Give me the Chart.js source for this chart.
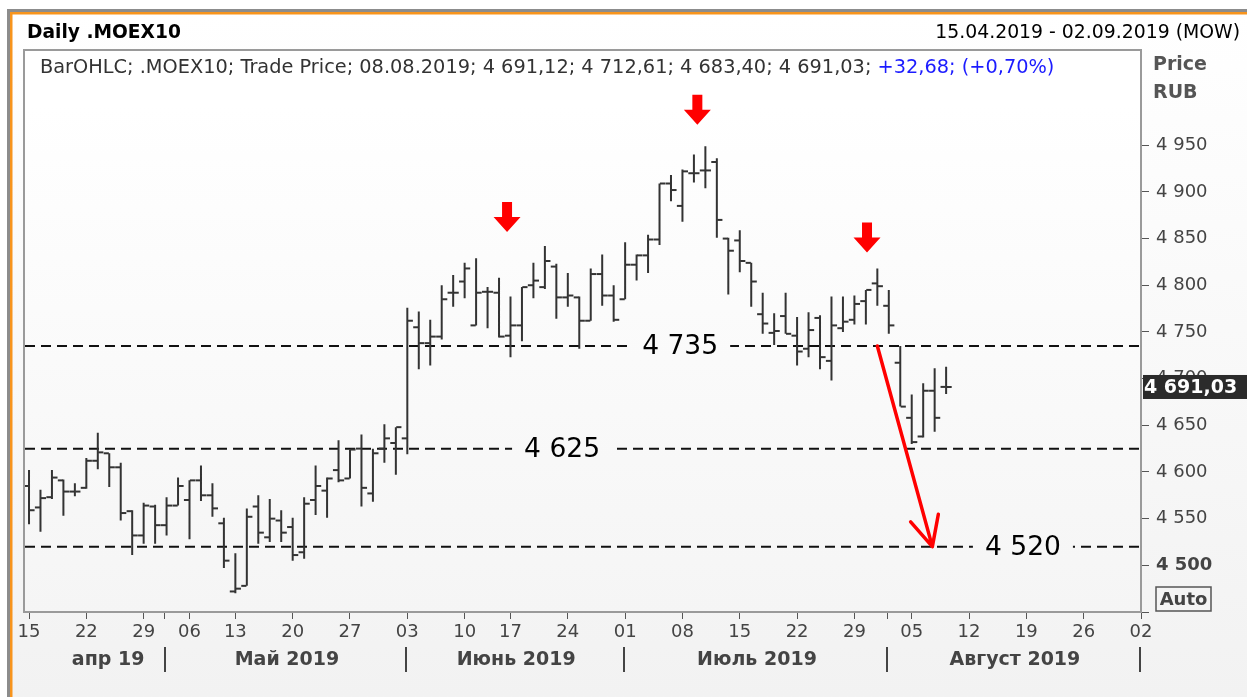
<!DOCTYPE html>
<html>
<head>
<meta charset="utf-8">
<script src="https://cdn.jsdelivr.net/npm/chart.js@4.4.1/dist/chart.umd.min.js"></script>
<style>
html, body { margin: 0; padding: 0; background: #fff; }
canvas { display: block; }
</style>
</head>
<body>
<canvas id="chartCanvas" width="1247" height="697"></canvas>
<script>
// daily bars .MOEX10, 15.04.2019 - 08.08.2019 (index = trading day)
const barOpen = [4585, 4562, 4573, 4591, 4579, 4583, 4612, 4620, 4605, 4558,
    4532, 4563, 4543, 4564, 4570, 4591, 4575, 4545, 4472, 4478,
    4563, 4530, 4548, 4541, 4514, 4570, 4580, 4602, 4593, 4625,
    4577, 4625, 4631, 4636, 4755, 4738, 4745, 4792, 4804, 4757,
    4793, 4792, 4746, 4757, 4800, 4798, 4820, 4787, 4787, 4762,
    4812, 4789, 4785, 4822, 4832, 4849, 4909, 4885, 4920, 4923,
    4932, 4850, 4848, 4824, 4769, 4749, 4767, 4746, 4732, 4765,
    4719, 4754, 4763, 4783, 4802, 4778, 4717, 4658, 4638, 4687, 4691.12];
const barHigh = [4602, 4581, 4602, 4592, 4588, 4615, 4642, 4620, 4610, 4559,
    4567, 4565, 4573, 4594, 4591, 4607, 4588, 4551, 4513, 4561,
    4575, 4571, 4559, 4551, 4573, 4607, 4594, 4634, 4624, 4640,
    4625, 4651, 4648, 4776, 4772, 4763, 4800, 4811, 4824, 4829,
    4798, 4808, 4788, 4798, 4824, 4842, 4823, 4813, 4788, 4818,
    4833, 4800, 4846, 4833, 4854, 4909, 4918, 4924, 4940, 4949,
    4936, 4851, 4859, 4824, 4792, 4770, 4792, 4766, 4771, 4768,
    4788, 4788, 4789, 4795, 4818, 4795, 4735, 4683, 4695, 4711, 4712.61];
const barLow = [4544, 4536, 4571, 4553, 4574, 4582, 4603, 4584, 4548, 4511,
    4523, 4523, 4532, 4564, 4528, 4569, 4552, 4497, 4470, 4478,
    4523, 4525, 4525, 4505, 4507, 4554, 4551, 4589, 4593, 4563,
    4568, 4610, 4597, 4619, 4710, 4714, 4742, 4777, 4786, 4757,
    4754, 4744, 4723, 4740, 4786, 4796, 4764, 4777, 4732, 4762,
    4778, 4761, 4785, 4805, 4813, 4843, 4890, 4868, 4910, 4904,
    4851, 4790, 4814, 4777, 4748, 4736, 4748, 4714, 4723, 4710,
    4698, 4750, 4758, 4758, 4778, 4748, 4670, 4630, 4637, 4643, 4683.40];
const barClose = [4559, 4572, 4594, 4579, 4579, 4612, 4621, 4605, 4556, 4532,
    4564, 4543, 4564, 4585, 4591, 4575, 4561, 4505, 4475, 4552,
    4535, 4550, 4535, 4511, 4566, 4585, 4593, 4591, 4624, 4583,
    4620, 4636, 4648, 4762, 4738, 4745, 4785, 4792, 4818, 4792,
    4793, 4745, 4757, 4798, 4805, 4826, 4787, 4789, 4762, 4812,
    4789, 4763, 4822, 4832, 4849, 4909, 4902, 4922, 4920, 4923,
    4870, 4837, 4826, 4804, 4759, 4751, 4748, 4729, 4752, 4723,
    4757, 4761, 4780, 4795, 4799, 4757, 4670, 4632, 4687, 4658, 4691.03];

const xTickIdx = [0, 5, 10, 14, 18, 23, 28, 33, 38, 42, 47, 52, 57, 62, 67, 72, 77, 82, 87, 92, 97];
const xTickText = ["15", "22", "29", "06", "13", "20", "27", "03", "10", "17", "24",
    "01", "08", "15", "22", "29", "05", "12", "19", "26", "02"];
const monthTickIdx = [11.85, 74.85];
const monthNames = ["апр 19", "Май 2019", "Июнь 2019", "Июль 2019", "Август 2019"];
const monthLabelIdx = [6.9, 22.5, 42.5, 63.5, 86];
const monthStartIdx = [12, 33, 52, 75, 97];
const yTicks = [4450, 4500, 4550, 4600, 4650, 4700, 4750, 4800, 4850, 4900, 4950];

const levels = [4735, 4625, 4520];
const levelLabelIdx = [56.8, 46.5, 86.7];
const arrowIdx = [41.7, 58.3, 73.1];
const arrowTip = [4857, 4972, 4835];
const trendFrom = [74.0, 4735];
const trendTo = [78.8, 4520];
const lastPrice = 4691.03;

const FONT = '"DejaVu Sans", Verdana, sans-serif';
const X_MIN = -0.35, X_MAX = 97;

function fmt(v) {
    return String(v).replace(/\B(?=(\d{3})+(?!\d))/g, " ");
}

// high-low strokes: pairs of points split by null
const hlPoints = [];
barHigh.forEach((h, i) => {
    hlPoints.push({x: i, y: barLow[i]}, {x: i, y: h}, {x: i, y: null});
});
const openPoints = barOpen.map((v, i) => ({x: i - 0.26, y: v}));
const closePoints = barClose.map((v, i) => ({x: i + 0.26, y: v}));

const levelSets = levels.map(v => ({
    type: "scatter",
    data: [{x: X_MIN, y: v}, {x: X_MAX, y: v}],
    showLine: true,
    borderColor: "#111",
    borderWidth: 2,
    borderDash: [10, 6],
    pointRadius: 0
}));

function fitSize(ctx, text, weight, target) {
    ctx.font = weight + " 20px " + FONT;
    return 20 * target / ctx.measureText(text).width;
}

const backdrop = {
    id: "backdrop",
    beforeDraw(chart) {
        const {ctx, chartArea: a, width, height} = chart;
        ctx.save();
        ctx.fillStyle = "#fff";
        ctx.fillRect(0, 0, width, height);
        let g = ctx.createLinearGradient(0, 14, 0, height);
        g.addColorStop(0, "#ffffff");
        g.addColorStop(1, "#f2f2f2");
        ctx.fillStyle = g;
        ctx.fillRect(10, 12, width - 10, height - 12);
        // frame lines
        ctx.fillStyle = "#8c8c8c";
        ctx.fillRect(7, 9, width - 7, 3);
        ctx.fillRect(7, 9, 3, height - 9);
        ctx.fillStyle = "#f7941d";
        ctx.fillRect(10, 12, width - 10, 2.5);
        ctx.fillRect(10, 12, 2.5, height - 12);
        // plot area
        const pg = ctx.createLinearGradient(0, a.top, 0, a.bottom);
        pg.addColorStop(0, "#ffffff");
        pg.addColorStop(0.1, "#ffffff");
        pg.addColorStop(1, "#f5f5f5");
        chart.$plotGrad = pg;
        ctx.fillStyle = pg;
        ctx.fillRect(a.left, a.top, a.right - a.left, a.bottom - a.top);
        ctx.restore();
    }
};

function downArrow(ctx, x, y) {
    ctx.beginPath();
    ctx.moveTo(x, y);
    ctx.lineTo(x - 13.5, y - 15);
    ctx.lineTo(x - 5, y - 15);
    ctx.lineTo(x - 5, y - 30);
    ctx.lineTo(x + 5, y - 30);
    ctx.lineTo(x + 5, y - 15);
    ctx.lineTo(x + 13.5, y - 15);
    ctx.closePath();
    ctx.fill();
}

const overlay = {
    id: "overlay",
    afterDraw(chart) {
        const {ctx, chartArea: a, scales} = chart;
        const xs = scales.x, ys = scales.y;
        ctx.save();

        // plot border
        ctx.strokeStyle = "#9a9a9a";
        ctx.lineWidth = 2;
        ctx.strokeRect(a.left - 1, a.top, a.right - a.left + 1, a.bottom - a.top);

        // level labels
        ctx.textBaseline = "middle";
        ctx.textAlign = "center";
        levels.forEach((v, i) => {
            const x = xs.getPixelForValue(levelLabelIdx[i]);
            const y = ys.getPixelForValue(v);
            const s = fitSize(ctx, fmt(v), "normal", 76);
            ctx.font = s + "px " + FONT;
            ctx.fillStyle = chart.$plotGrad;
            ctx.fillRect(x - 50, y - 12, 100, 24);
            ctx.fillStyle = "#000";
            ctx.fillText(fmt(v), x, y + 1);
        });

        // red arrows
        ctx.fillStyle = "#ff0000";
        arrowIdx.forEach((v, i) => {
            downArrow(ctx, xs.getPixelForValue(v), ys.getPixelForValue(arrowTip[i]));
        });

        // trend line with arrow head
        const x0 = xs.getPixelForValue(trendFrom[0]), y0 = ys.getPixelForValue(trendFrom[1]);
        const x1 = xs.getPixelForValue(trendTo[0]), y1 = ys.getPixelForValue(trendTo[1]);
        const ang = Math.atan2(y0 - y1, x0 - x1);
        ctx.strokeStyle = "#ff0000";
        ctx.lineWidth = 3.5;
        ctx.lineCap = "round";
        ctx.beginPath();
        ctx.moveTo(x0, y0);
        ctx.lineTo(x1, y1);
        [-0.45, 0.45].forEach(d => {
            ctx.moveTo(x1, y1);
            ctx.lineTo(x1 + 33 * Math.cos(ang + d), y1 + 33 * Math.sin(ang + d));
        });
        ctx.stroke();
        ctx.lineCap = "butt";

        // header texts
        ctx.textAlign = "left";
        let s = fitSize(ctx, "Daily .MOEX10", "bold", 154);
        ctx.font = "bold " + s + "px " + FONT;
        ctx.fillStyle = "#000";
        ctx.fillText("Daily .MOEX10", 27, 33);

        const range = "15.04.2019 - 02.09.2019 (MOW)";
        s = fitSize(ctx, range, "normal", 305);
        ctx.font = s + "px " + FONT;
        ctx.textAlign = "right";
        ctx.fillText(range, 1240, 33);

        const part1 = "BarOHLC; .MOEX10; Trade Price; 08.08.2019; 4 691,12; 4 712,61; 4 683,40; 4 691,03; ";
        const part2 = "+32,68; (+0,70%)";
        s = fitSize(ctx, part1 + part2, "normal", 1015);
        ctx.font = s + "px " + FONT;
        ctx.textAlign = "left";
        ctx.fillStyle = "#333";
        ctx.fillText(part1, 40, 68);
        ctx.fillStyle = "#1c1cff";
        ctx.fillText(part2, 40 + ctx.measureText(part1).width, 68);

        // axis title
        ctx.font = "bold 19px " + FONT;
        ctx.fillStyle = "#555";
        ctx.fillText("Price", 1153, 65);
        ctx.fillText("RUB", 1153, 93);

        // last price box
        const yp = ys.getPixelForValue(lastPrice);
        ctx.fillStyle = "#2b2b2b";
        ctx.fillRect(a.right + 2, yp - 12, 1247 - a.right - 2, 24);
        ctx.fillStyle = "#fff";
        ctx.font = "bold 19px " + FONT;
        ctx.fillText("4 691,03", a.right + 3, yp + 1);

        // Auto box
        ctx.strokeStyle = "#555";
        ctx.lineWidth = 1.5;
        ctx.strokeRect(1156, 587, 55, 24);
        ctx.fillStyle = "#444";
        ctx.font = "bold 18px " + FONT;
        ctx.textAlign = "center";
        ctx.fillText("Auto", 1183.5, 600);

        // month row
        ctx.font = "bold 19px " + FONT;
        monthNames.forEach((m, i) => {
            ctx.fillText(m, xs.getPixelForValue(monthLabelIdx[i]), 660);
        });
        ctx.strokeStyle = "#444";
        ctx.lineWidth = 2;
        monthStartIdx.forEach(v => {
            const x = Math.round(xs.getPixelForValue(v) - 1.5);
            ctx.beginPath();
            ctx.moveTo(x, 647);
            ctx.lineTo(x, 672);
            ctx.stroke();
        });
        ctx.restore();
    }
};

const ctx = document.getElementById("chartCanvas").getContext("2d");
const chart = new Chart(ctx, {
    type: "scatter",
    data: {
        datasets: [
            {
                data: hlPoints,
                showLine: true,
                spanGaps: false,
                borderColor: "#333",
                borderWidth: 2,
                pointRadius: 0
            },
            {
                data: openPoints,
                pointStyle: "line",
                pointRadius: 2.6,
                pointBorderWidth: 2,
                borderColor: "#333"
            },
            {
                data: closePoints,
                pointStyle: "line",
                pointRadius: 2.6,
                pointBorderWidth: 2,
                borderColor: "#333"
            },
            ...levelSets
        ]
    },
    options: {
        responsive: false,
        animation: false,
        devicePixelRatio: 1,
        events: [],
        layout: {padding: {left: 25, top: 50, right: 0, bottom: 0}},
        plugins: {legend: {display: false}, tooltip: {enabled: false}},
        scales: {
            x: {
                type: "linear",
                min: X_MIN,
                max: X_MAX,
                afterBuildTicks: sc => {
                    sc.ticks = xTickIdx.concat(monthTickIdx).sort((p, q) => p - q).map(v => ({value: v}));
                },
                afterFit: sc => { sc.height = 85; },
                ticks: {
                    autoSkip: false,
                    maxRotation: 0,
                    padding: 3,
                    color: "#444",
                    font: {family: FONT, size: 18},
                    callback: v => {
                        const k = xTickIdx.indexOf(v);
                        return k >= 0 ? xTickText[k] : "";
                    }
                },
                grid: {drawOnChartArea: false, tickLength: 7, color: "#555"},
                border: {display: false}
            },
            y: {
                position: "right",
                min: 4450,
                max: 5052,
                afterBuildTicks: sc => { sc.ticks = yTicks.map(v => ({value: v})); },
                afterFit: sc => { sc.width = 106; },
                ticks: {
                    padding: 7,
                    color: "#444",
                    font: c => ({family: FONT, size: 18, weight: c.tick && c.tick.value === 4500 ? "bold" : "normal"}),
                    callback: v => v === 4450 ? "" : fmt(v)
                },
                grid: {drawOnChartArea: false, tickLength: 8, color: "#555"},
                border: {display: false}
            }
        }
    },
    plugins: [backdrop, overlay]
});
</script>
</body>
</html>
